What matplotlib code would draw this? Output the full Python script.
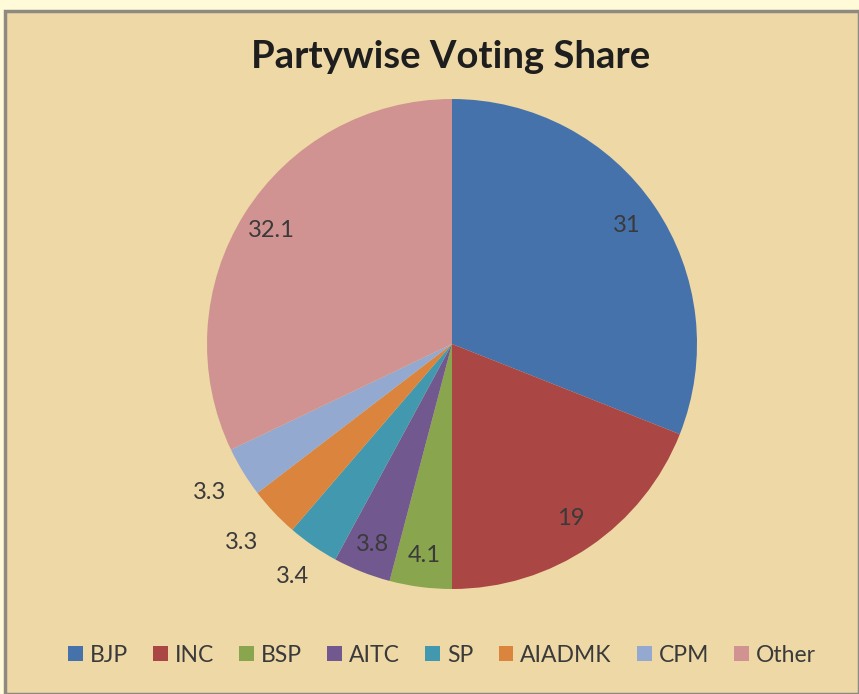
import numpy as np
import matplotlib
matplotlib.use("Agg")
import matplotlib.pyplot as plt
from matplotlib.patches import Rectangle

# data
parties = ["BJP", "INC", "BSP", "AITC", "SP", "AIADMK", "CPM", "Other"]
shares = [31, 19, 4.1, 3.8, 3.4, 3.3, 3.3, 32.1]
share_labels = ["31", "19", "4.1", "3.8", "3.4", "3.3", "3.3", "32.1"]

colors = ["#4672AC", "#AA4643", "#89A54E", "#71588F",
          "#4198AF", "#DB843D", "#93A9CF", "#D19392"]
# where each value label sits, as a fraction of the radius
label_dist = [0.86, 0.86, 0.87, 0.88, 1.15, 1.18, 1.16, 0.87]

plt.rcParams["font.family"] = ["Lato", "DejaVu Sans"]

W, H = 859, 694
fig = plt.figure(figsize=(W / 100, H / 100), dpi=100)
fig.patch.set_facecolor("#FFFBD9")

# parchment panel with grey frame
panel = Rectangle((5 / W, 0), 1 - 5 / W, 1 - 11 / H, transform=fig.transFigure,
                  facecolor="#EDD8A6", edgecolor="#8E8A80", linewidth=2.5,
                  zorder=-1)
fig.patches.append(panel)

fig.text(451 / W, 1 - 57 / H, "Partywise Voting Share", ha="center",
         va="center", fontsize=27.5, fontweight="bold", color="#1E1E1E")

# pie axes: centre (452, 344), radius ~245 px
r_px = 245
cx, cy = 452, 344
ax = fig.add_axes([(cx - r_px) / W, 1 - (cy + r_px) / H,
                   2 * r_px / W, 2 * r_px / H])
wedges, _ = ax.pie(shares, colors=colors, startangle=90, counterclock=False,
                   wedgeprops=dict(linewidth=0))
ax.set_xlim(-1, 1)
ax.set_ylim(-1, 1)
ax.set_aspect("equal")
ax.axis("off")

for w, txt, d in zip(wedges, share_labels, label_dist):
    ang = np.deg2rad((w.theta1 + w.theta2) / 2)
    ax.text(d * np.cos(ang), d * np.sin(ang), txt, ha="center", va="center",
            fontsize=17, color="#3A3A3A", clip_on=False)

handles = [Rectangle((0, 0), 1, 1, facecolor=c) for c in colors]
fig.legend(handles, parties, loc="center", bbox_to_anchor=(442 / W, 1 - 655 / H),
           ncol=len(parties), frameon=False, fontsize=16.5,
           handlelength=0.65, handleheight=0.65, handletextpad=0.3,
           columnspacing=1.1, labelcolor="#3A3A3A")

fig.savefig("out.png", dpi=100, facecolor=fig.get_facecolor())
